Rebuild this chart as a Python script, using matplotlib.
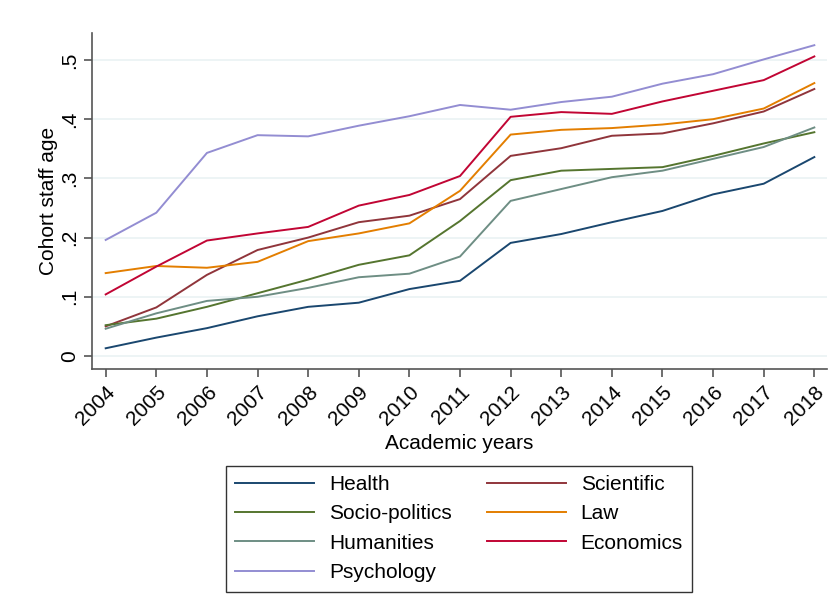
import matplotlib
matplotlib.use("Agg")
import matplotlib.pyplot as plt

plt.rcParams['font.family'] = ['Liberation Sans', 'DejaVu Sans']

years = list(range(2004, 2019))

health = [0.013, 0.031, 0.047, 0.067, 0.083, 0.090, 0.113, 0.127, 0.191, 0.206, 0.226, 0.245, 0.273, 0.291, 0.336]
socio = [0.052, 0.063, 0.083, 0.106, 0.129, 0.154, 0.170, 0.228, 0.297, 0.313, 0.316, 0.319, 0.338, 0.359, 0.378]
humanities = [0.046, 0.072, 0.093, 0.100, 0.115, 0.133, 0.139, 0.168, 0.262, 0.282, 0.302, 0.313, 0.333, 0.353, 0.386]
psychology = [0.196, 0.242, 0.343, 0.373, 0.371, 0.389, 0.405, 0.424, 0.416, 0.429, 0.438, 0.460, 0.476, 0.501, 0.525]
scientific = [0.050, 0.082, 0.137, 0.179, 0.200, 0.226, 0.237, 0.265, 0.338, 0.351, 0.372, 0.376, 0.393, 0.413, 0.451]
law = [0.140, 0.152, 0.149, 0.159, 0.194, 0.207, 0.224, 0.279, 0.374, 0.382, 0.385, 0.391, 0.400, 0.418, 0.461]
economics = [0.104, 0.151, 0.195, 0.207, 0.218, 0.254, 0.272, 0.304, 0.404, 0.412, 0.409, 0.430, 0.448, 0.466, 0.506]

# legend order as in the reference (two columns, filled row by row)
series = [
    ("Health", health, "#1a476f"),
    ("Scientific", scientific, "#90353b"),
    ("Socio-politics", socio, "#55752f"),
    ("Law", law, "#e37e00"),
    ("Humanities", humanities, "#6e8e84"),
    ("Economics", economics, "#c10534"),
    ("Psychology", psychology, "#938dd2"),
]

fig = plt.figure(figsize=(8.35, 6.1), dpi=100)
ax = fig.add_axes([0.1102, 0.3951, 0.8802, 0.5508])

for name, vals, col in series:
    ax.plot(years, vals, color=col, lw=1.4, label=name)

ax.set_xlim(2003.73, 2018.25)
ax.set_ylim(-0.022, 0.5456)
ax.set_yticks([0, 0.1, 0.2, 0.3, 0.4, 0.5])
ax.set_yticklabels(["0", ".1", ".2", ".3", ".4", ".5"], rotation=90, va='center', fontsize=15)
ax.set_xticks(years)
ax.set_xticklabels([str(y) for y in years], rotation=45, ha='right',
                   rotation_mode='anchor', fontsize=15)
ax.grid(axis='y', color='#eaf2f3', lw=1.2)
ax.set_axisbelow(True)
for s in ['top', 'right']:
    ax.spines[s].set_visible(False)
for s in ['left', 'bottom']:
    ax.spines[s].set_color('#555555')
    ax.spines[s].set_linewidth(1.2)
ax.tick_params(colors='#555555', labelcolor='black', length=6, width=1.2)
ax.set_ylabel("Cohort staff age", fontsize=15, labelpad=1)
ax.set_xlabel("Academic years", fontsize=15)

# reorder so the two-column legend fills row by row
handles, labels = ax.get_legend_handles_labels()
order = [0, 2, 4, 6, 1, 3, 5]
leg = fig.legend([handles[i] for i in order], [labels[i] for i in order],
                 ncol=2, loc='center', bbox_to_anchor=(0.5497, 0.1336),
                 fontsize=15, frameon=True, fancybox=False, edgecolor='black',
                 handlelength=3.8, handletextpad=0.7, columnspacing=1.7,
                 labelspacing=0.5, borderpad=0.45)
leg.get_frame().set_linewidth(1.0)

fig.savefig("out.png", dpi=100)
